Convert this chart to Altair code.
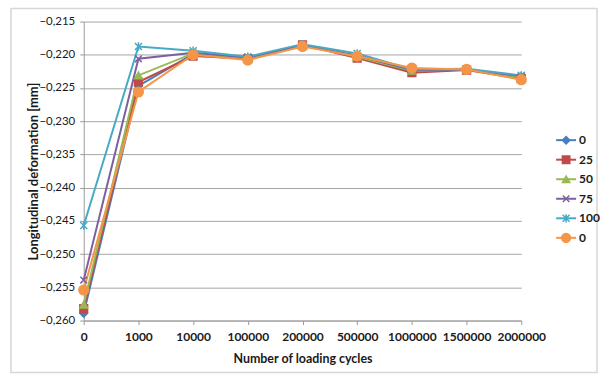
import altair as alt
import pandas as pd

# Loading cycles (categorical x positions) and measured deformation per series
cycles = ["0", "1000", "10000", "100000", "200000", "500000", "1000000", "1500000", "2000000"]
series_keys = ["a0", "b25", "c50", "d75", "e100", "f0"]
series_names = ["0", "25", "50", "75", "100", "0"]

s_0 = [-0.2589, -0.2247, -0.2199, -0.2205, -0.2185, -0.2202, -0.2225, -0.2222, -0.2233]
s_25 = [-0.2582, -0.2241, -0.2202, -0.2206, -0.2185, -0.2205, -0.2227, -0.2223, -0.2236]
s_50 = [-0.2576, -0.2231, -0.2198, -0.2205, -0.2186, -0.2203, -0.2224, -0.2222, -0.2234]
s_75 = [-0.2539, -0.2206, -0.2197, -0.2204, -0.2186, -0.2201, -0.2223, -0.2222, -0.2232]
s_100 = [-0.2457, -0.21875, -0.2194, -0.2203, -0.2184, -0.2198, -0.2222, -0.2221, -0.2231]
s_0b = [-0.2554, -0.2256, -0.2200, -0.2208, -0.21875, -0.2202, -0.2220, -0.2222, -0.22375]

colors = ["#4A7EBB", "#BE4B48", "#98B954", "#7D60A0", "#46AAC5", "#F59547"]

rows = []
for key, vals in zip(series_keys, [s_0, s_25, s_50, s_75, s_100, s_0b]):
    for j, (c, v) in enumerate(zip(cycles, vals)):
        rows.append({"cycles": c, "idx": j, "value": v, "series": key})
df = pd.DataFrame(rows)

legend_df = pd.DataFrame({"series": series_keys, "name": series_names})

# Marker shapes and sizes per series
point_shapes = [
    "diamond",
    "square",
    "triangle-up",
    "M-1,-1L1,1M-1,1L1,-1",
    "M-1,-1L1,1M-1,1L1,-1M0,-1.2V1.2",
    "circle",
]
point_sizes = [60, 60, 60, 45, 50, 95]
legend_sizes = [55, 55, 55, 42, 48, 80]

color_scale = alt.Scale(domain=series_keys, range=colors)
font = "Lato"
ink = "#1a1a1a"
axis_gray = "#9a9a9a"

x_enc = alt.X(
    "cycles:O",
    sort=cycles,
    scale=alt.Scale(type="point", padding=0),
    axis=alt.Axis(
        title="Number of loading cycles",
        labelAngle=0,
        labelFont=font,
        labelFontSize=12,
        labelFontWeight="bold",
        labelColor=ink,
        labelPadding=7,
        tickSize=4,
        tickColor=axis_gray,
        domainColor=axis_gray,
        grid=False,
        titleFont=font,
        titleFontSize=12.5,
        titleFontWeight="bold",
        titleColor=ink,
        titleY=38,
        titleBaseline="middle",
    ),
)
y_enc = alt.Y(
    "value:Q",
    scale=alt.Scale(domain=[-0.260, -0.215], nice=False, zero=False),
    axis=alt.Axis(
        title="Longitudinal deformation [mm]",
        values=[round(-0.260 + 0.005 * i, 3) for i in range(10)],
        labelExpr="replace(format(datum.value, '.3f'), '.', ',')",
        labelOverlap=False,
        labelFont=font,
        labelFontSize=11.5,
        labelColor=ink,
        labelPadding=5,
        tickSize=4,
        tickColor=axis_gray,
        domainColor=axis_gray,
        gridColor="#a6a6a6",
        gridWidth=1,
        titleFont=font,
        titleFontSize=13,
        titleFontWeight="bold",
        titleColor=ink,
        titleX=-50,
        titleY=150,
        titleAngle=-90,
        titleAlign="center",
        titleBaseline="middle",
    ),
)

base = alt.Chart(df)

# Light frame around the whole chart
border = alt.Chart(pd.DataFrame({"k": [0]})).mark_rect(
    fill=None, stroke="#d6d6d6", strokeWidth=1.5
).encode(x=alt.value(-73), x2=alt.value(515), y=alt.value(-13), y2=alt.value(352))

lines = base.mark_line(strokeWidth=2).encode(
    x=x_enc,
    y=y_enc,
    color=alt.Color("series:N", scale=color_scale, legend=None),
    order=alt.Order("idx:Q"),
)

# One marker layer per series, each with its own marker shape
point_layers = []
for key, col, shp, sz in zip(series_keys, colors, point_shapes, point_sizes):
    point_layers.append(
        base.transform_filter(alt.datum.series == key)
        .mark_point(shape=shp, size=sz, fill=col, stroke=col, strokeWidth=1.5, opacity=1)
        .encode(x=x_enc, y=y_enc)
    )

main = alt.layer(border, lines, *point_layers).properties(width=439, height=300)

# Legend panel: a line swatch with its marker and the series name per row
leg_y = alt.Y(
    "series:N",
    sort=series_keys,
    scale=alt.Scale(type="point", range=[119, 217], padding=0),
    axis=None,
)
leg_base = alt.Chart(legend_df)
leg_lines = leg_base.mark_rule(strokeWidth=2).encode(
    x=alt.value(0),
    x2=alt.value(20),
    y=leg_y,
    color=alt.Color("series:N", scale=color_scale, legend=None),
)
leg_points = []
for key, col, shp, sz in zip(series_keys, colors, point_shapes, legend_sizes):
    leg_points.append(
        leg_base.transform_filter(alt.datum.series == key)
        .mark_point(shape=shp, size=sz, fill=col, stroke=col, strokeWidth=1.5, opacity=1)
        .encode(x=alt.value(10), y=leg_y)
    )
leg_text = leg_base.mark_text(
    align="left", baseline="middle", font=font, fontSize=12, fontWeight="bold", color=ink
).encode(x=alt.value(23), y=leg_y, text="name:N")

legend_panel = alt.layer(leg_lines, *leg_points, leg_text).properties(width=30, height=300)

chart = (
    alt.hconcat(main, legend_panel, spacing=35, bounds="flush")
    .properties(
        padding={"left": 10, "top": 7, "right": 0, "bottom": 0},
        autosize=alt.AutoSizeParams(type="pad"),
        background="white",
    )
    .configure_view(stroke=None)
)

chart.save("out.html", embed_options={"renderer": "svg", "actions": False})
